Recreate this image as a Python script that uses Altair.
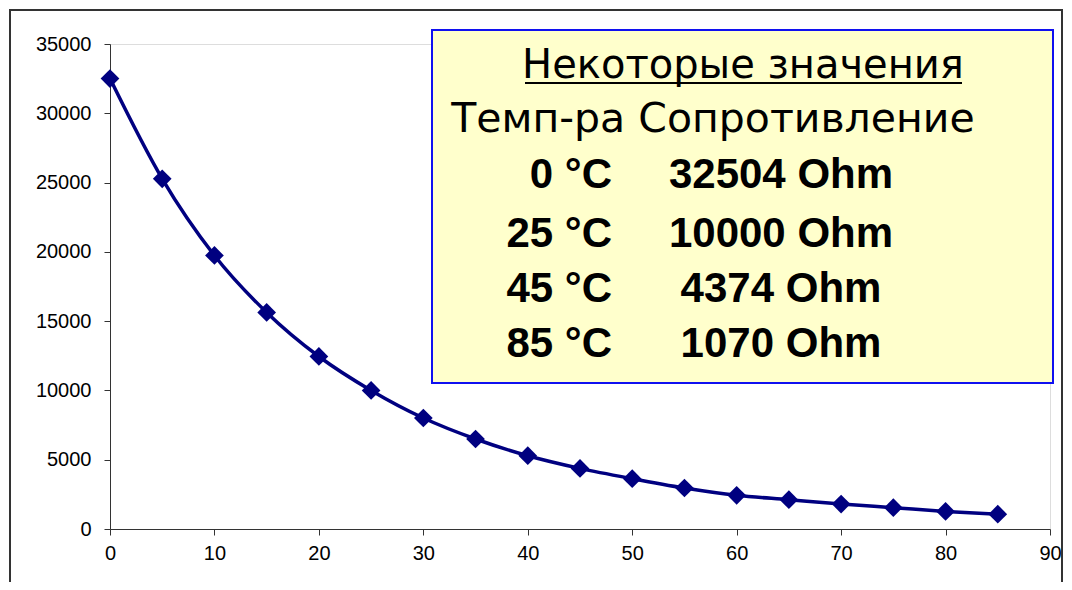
import altair as alt
import pandas as pd

# data
temps = [0, 5, 10, 15, 20, 25, 30, 35, 40, 45, 50, 55, 60, 65, 70, 75, 80, 85]
resist = [32504, 25270, 19740, 15630, 12450, 10000, 8010, 6495, 5290, 4374,
          3630, 2960, 2430, 2115, 1800, 1540, 1270, 1070]

box_title = "Некоторые значения"
box_header = "Темп-ра  Сопротивление"
tbl_temp = ["0 °C", "25 °C", "45 °C", "85 °C"]
tbl_res = ["32504 Ohm", "10000 Ohm", "4374 Ohm", "1070 Ohm"]

df = pd.DataFrame({"t": temps, "r": resist})

W, H = 940, 485
NAVY = "#000080"

x_enc = alt.X("t:Q", scale=alt.Scale(domain=[0, 90], nice=False),
              axis=alt.Axis(values=list(range(0, 91, 10)), title=None, grid=False,
                            labelFont="Liberation Sans", labelFontSize=20, labelColor="#000",
                            domainColor="#333", tickColor="#333", tickSize=6,
                            labelPadding=8, labelFlush=False))
y_enc = alt.Y("r:Q", scale=alt.Scale(domain=[0, 35000], nice=False),
              axis=alt.Axis(values=list(range(0, 35001, 5000)), title=None, grid=False,
                            labelFont="Liberation Sans", labelFontSize=20, labelColor="#000",
                            domainColor="#333", tickColor="#333", tickSize=6,
                            labelPadding=13, format="d"))

line = alt.Chart(df).mark_line(color=NAVY, strokeWidth=3.5, interpolate="monotone").encode(
    x=x_enc, y=y_enc)
pts = alt.Chart(df).mark_point(shape="diamond", filled=True, color=NAVY, size=350, opacity=1).encode(
    x="t:Q", y="r:Q")

one = pd.DataFrame({"a": [0]})

# offsets relative to the plot origin (page x 110, y 44)
frame = alt.Chart(one).mark_rect(fill=None, stroke="#333", strokeWidth=2).encode(
    x=alt.value(-100), x2=alt.value(952), y=alt.value(-34), y2=alt.value(700))

box = alt.Chart(one).mark_rect(fill="#FFFFCC", stroke="#1010F0", strokeWidth=2).encode(
    x=alt.value(322), x2=alt.value(943), y=alt.value(-14), y2=alt.value(339))

title_txt = alt.Chart(one).mark_text(text=box_title, font="DejaVu Sans", fontSize=40,
                                     align="center", baseline="alphabetic", color="#000").encode(
    x=alt.value(633), y=alt.value(34))
underline = alt.Chart(one).mark_rule(color="#000", strokeWidth=2).encode(
    x=alt.value(415), x2=alt.value(852), y=alt.value(39))
header_txt = alt.Chart(one).mark_text(text=box_header, font="DejaVu Sans", fontSize=41,
                                      align="center", baseline="alphabetic", color="#000").encode(
    x=alt.value(603), y=alt.value(88))

row_y = [144, 203, 258, 313]
rows = []
for i in range(len(tbl_temp)):
    rows.append(alt.Chart(one).mark_text(text=tbl_temp[i], font="Liberation Sans", fontWeight="bold",
                                         fontSize=42, align="right", baseline="alphabetic",
                                         color="#000").encode(x=alt.value(502), y=alt.value(row_y[i])))
    rows.append(alt.Chart(one).mark_text(text=tbl_res[i], font="Liberation Sans", fontWeight="bold",
                                         fontSize=42, align="center", baseline="alphabetic",
                                         color="#000").encode(x=alt.value(671), y=alt.value(row_y[i])))

chart = alt.layer(frame, line, pts, box, title_txt, underline, header_txt, *rows).properties(
    width=W, height=H,
    autosize=alt.AutoSizeParams(type="none"),
    padding={"left": 102, "top": 36, "right": 14, "bottom": 53},
).configure_view(stroke=None).configure(background="white")

chart.save("out.html", embed_options={"renderer": "svg", "actions": False})
